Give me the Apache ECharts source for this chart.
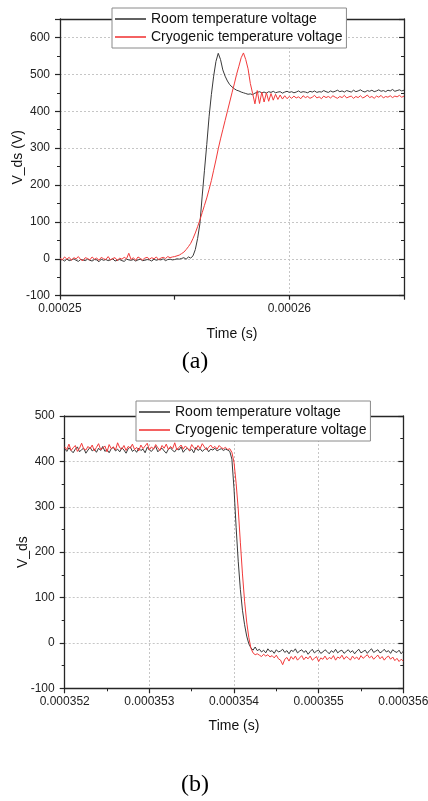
<!DOCTYPE html>
<html><head><meta charset="utf-8">
<script src="https://cdn.jsdelivr.net/npm/echarts@6/dist/echarts.min.js"></script>
<style>html,body{margin:0;padding:0;background:#fff;}#c{width:428px;height:801px;}</style>
</head><body><div id="c"></div>
<script>
// ---------- DATA ----------
const seriesNames = ['Room temperature voltage', 'Cryogenic temperature voltage'];
const panelLabels = ['(a)', '(b)'];
const xName = 'Time (s)';
const yNameTop = 'V_ds (V)';
const yNameBot = 'V_ds';

// panel (a): sampled from 250 µs every 0.1 µs
const topT0 = 250, topDt = 0.1;
const roomTop = [
-4,-2,-6,-1,-5,-3,0,-4,-7,-2, -3,-5,-1,-4,-6,-2,-3,-8,-1,-4, -2,-5,-3,0,-6,-4,-2,-5,-7,-1,
-3,-4,-2,-6,-3,-1,-5,-4,-2,-3, -6,-1,-4,-2,-3,0,-5,-2,-1,-3, -2,0,-1,1,
3,-1,5,2,8,25,55,95,170,240,310,385,445,495,535,557,540,512,495,482,472,466,461,457,455,452,450,448,446,447,445,449,
451,453,450,452,449,453,451,454,450,452, 453,449,452,454,451,453,450,452,455,451,
453,452,450,454,452,455,451,453,452,456, 453,451,455,452,454,457,453,455,452,456,
454,452,457,453,455,458,454,452,456,454, 457,453,455,458,454,456,453,457,455,459,
454,456,458,455,457
];
const cryoTop = [
2,-3,5,-1,4,-4,3,0,6,-2, -5,3,1,-3,5,-1,2,-4,4,0, -2,6,-3,1,3,-5,2,-1,4,0,
15,-2,3,-4,5,1,-3,2,4,-1, 3,0,5,-2,2,4,1,6,3,5,
6,8,10,14,18,25,33,42,55,70, 87,105,125,145,165,188,212,240,268,298,
325,350,375,400,425,450,474,500,522,545, 558,540,515,475,448,420,456,421,452,425,
450,427,448,430,446,432,444,433,442,434,
440,435,441,436,439,434,442,437,440,435, 438,443,436,439,434,441,437,440,436,442,
438,435,440,437,443,436,439,441,435,440, 437,442,436,439,444,437,440,435,441,438,
443,436,440,438,442,437,441,439,443,438, 441
];
const topXTicks = [250, 260];
const topXLabels = ['0.00025', '0.00026'];
const topYTicks = [-100, 0, 100, 200, 300, 400, 500, 600];

// panel (b): sampled from 352 µs every 0.025 µs
const botT0 = 352, botDt = 0.025;
const roomBot = [
428,422,430,424,419,427,432,421,426,429, 418,425,431,423,427,420,429,424,433,422,
426,419,428,431,423,427,421,430,425,418, 428,432,422,426,420,429,424,427,419,431,
425,422,428,433,421,426,429,423,418,427, 430,424,421,428,425,432,420,426,429,423,
427,419,431,424,428,422,426,430,421,427, 425,429,423,426,428,424,427,425,
422,405,340,255,180,118,72,40,15,-2,-11,-16,-9,-17,
-14,-20,-16,-22,-13,-19,-17,-23,-15,-20, -18,-14,-21,-17,-24,-16,-19,-13,-22,-18,
-15,-21,-17,-25,-19,-14,-22,-18,-16,-23, -20,-15,-19,-24,-17,-21,-14,-22,-18,-16,
-23,-19,-15,-21,-17,-24,-18,-14,-22,-19, -16,-23,-17,-13,-21,-18,-15,-22,-19,-14,
-20,-17,-23,-15,-19,-21,-16,-24,-18
];
const cryoBot = [
432,426,438,424,430,435,422,429,440,427, 425,433,428,436,423,431,439,426,429,434,
421,437,428,432,425,441,430,427,435,424, 433,429,438,426,431,423,436,428,434,440,
425,432,427,437,430,424,435,429,438,426, 433,428,441,425,431,436,427,434,429,424,
437,430,426,435,428,439,432,425,431,436, 429,433,427,435,430,428,431,426,
428,420,398,352,295,222,152,92,46,12,-12,-22,-26,-24,
-27,-30,-25,-29,-26,-31,-28,-33,-27,-35, -38,-48,-36,-32,-40,-30,-36,-29,-38,-33,
-28,-37,-31,-35,-29,-38,-34,-30,-41,-33, -36,-29,-37,-32,-35,-28,-38,-31,-34,-27,
-36,-30,-33,-38,-29,-35,-31,-37,-28,-34, -30,-26,-33,-29,-36,-31,-27,-35,-30,-38,
-32,-29,-36,-31,-39,-34,-41,-36,-40
];
const botXTicks = [352, 353, 354, 355, 356];
const botXLabels = ['0.000352', '0.000353', '0.000354', '0.000355', '0.000356'];
const botYTicks = [-100, 0, 100, 200, 300, 400, 500];

// ---------- BUILD ----------
function toPairs(t0, dt, vals) { return vals.map((v, i) => [t0 + i * dt, v]); }
function fmt(ticks, labels) {
  return function (v) {
    const i = ticks.findIndex(t => Math.abs(t - v) < 1e-6);
    return i >= 0 ? String(labels ? labels[i] : ticks[i]) : '';
  };
}
const ROOM = '#3a3a3a', CRYO = '#f23a3a', AX = '#262626', GRIDC = '#c6c6c6';
const FONT = 'Liberation Sans, Arial, sans-serif';

function xAxes(grid, min, max, interval, splitInt, minor, ticks, labels) {
  return [{
    gridIndex: grid, type: 'value', min, max, interval, position: 'bottom',
    name: xName, nameLocation: 'middle', nameGap: 31, nameMoveOverlap: false,
    nameTextStyle: { fontSize: 14, color: '#111', fontFamily: FONT },
    axisLine: { show: true, onZero: false, lineStyle: { color: AX, width: 1.3 } },
    axisTick: { show: true, length: minor ? 5 : 4, lineStyle: { color: AX, width: 1.2 } },
    minorTick: { show: minor, splitNumber: 2, length: 3, lineStyle: { color: AX, width: 1 } },
    axisLabel: { margin: 7, fontSize: 12, color: '#222', fontFamily: FONT, formatter: fmt(ticks, labels), hideOverlap: false, showMinLabel: true, showMaxLabel: true },
    splitLine: { show: false }
  }, {
    gridIndex: grid, type: 'value', min, max, interval: splitInt, position: 'top',
    axisLine: { show: true, onZero: false, lineStyle: { color: AX, width: 1.3 } },
    axisTick: { show: false }, axisLabel: { show: false },
    splitLine: { show: true, lineStyle: { color: GRIDC, type: [2, 2], width: 1 } }
  }];
}
function yAxes(grid, min, max, name, ticks) {
  return [{
    gridIndex: grid, type: 'value', min, max, interval: 100, position: 'left',
    name, nameLocation: 'middle', nameGap: 35, nameMoveOverlap: false,
    nameTextStyle: { fontSize: 14, color: '#111', fontFamily: FONT },
    axisLine: { show: true, onZero: false, lineStyle: { color: AX, width: 1.3 } },
    axisTick: { show: true, length: 5, lineStyle: { color: AX, width: 1.2 } },
    minorTick: { show: true, splitNumber: 2, length: 3, lineStyle: { color: AX, width: 1 } },
    axisLabel: { margin: 10, fontSize: 12, color: '#222', fontFamily: FONT, formatter: fmt(ticks) },
    splitLine: { show: true, lineStyle: { color: GRIDC, type: [2, 2], width: 1 } }
  }, {
    gridIndex: grid, type: 'value', min, max, interval: 100, position: 'right',
    axisLine: { show: true, onZero: false, lineStyle: { color: AX, width: 1.3 } },
    axisTick: { show: true, inside: true, length: 5, lineStyle: { color: AX, width: 1.2 } },
    minorTick: { show: true, splitNumber: 2, length: 3, lineStyle: { color: AX, width: 1 } },
    axisLabel: { show: false }, splitLine: { show: false }
  }];
}
function line(name, color, xi, yi, data, z) {
  return { type: 'line', name, xAxisIndex: xi, yAxisIndex: yi, data, symbol: 'none', showSymbol: false,
    lineStyle: { width: 1, color }, itemStyle: { color }, color, z, animation: false, silent: true };
}
function legend(left, top) {
  return { orient: 'vertical', left, top, data: seriesNames, selectedMode: false,
    icon: 'rect', itemWidth: 31, itemHeight: 1.6, itemGap: 2, padding: [3, 4, 3, 3],
    backgroundColor: '#fff', borderColor: '#8a8a8a', borderWidth: 1, z: 10,
    textStyle: { fontSize: 14, color: '#111', fontFamily: FONT, lineHeight: 16 } };
}

const option = {
  animation: false,
  backgroundColor: '#fff',
  grid: [
    { left: 60, top: 19, width: 344, height: 276.7, containLabel: false, outerBoundsMode: 'none' },
    { left: 64.7, top: 416, width: 338.6, height: 272.3, containLabel: false, outerBoundsMode: 'none' }
  ],
  xAxis: [
    ...xAxes(0, 250, 265, 5, 10, false, topXTicks, topXLabels),
    ...xAxes(1, 352, 356, 1, 1, true, botXTicks, botXLabels)
  ],
  yAxis: [
    ...yAxes(0, -100, 650, yNameTop, topYTicks),
    ...yAxes(1, -100, 500, yNameBot, botYTicks)
  ],
  legend: [legend(112, 8), legend(136, 401)],
  series: [
    line(seriesNames[0], ROOM, 0, 0, toPairs(topT0, topDt, roomTop), 2),
    line(seriesNames[1], CRYO, 0, 0, toPairs(topT0, topDt, cryoTop), 3),
    line(seriesNames[0], ROOM, 2, 2, toPairs(botT0, botDt, roomBot), 2),
    line(seriesNames[1], CRYO, 2, 2, toPairs(botT0, botDt, cryoBot), 3)
  ],
  graphic: [
    { type: 'text', style: { text: panelLabels[0], x: 195, y: 362, align: 'center', verticalAlign: 'middle', font: '24px "Liberation Serif", "Times New Roman", serif', fill: '#000' } },
    { type: 'text', style: { text: panelLabels[1], x: 195, y: 785, align: 'center', verticalAlign: 'middle', font: '24px "Liberation Serif", "Times New Roman", serif', fill: '#000' } }
  ]
};
const chart = echarts.init(document.getElementById('c'), null, { renderer: 'canvas' });
chart.setOption(option);
</script>
</body></html>
